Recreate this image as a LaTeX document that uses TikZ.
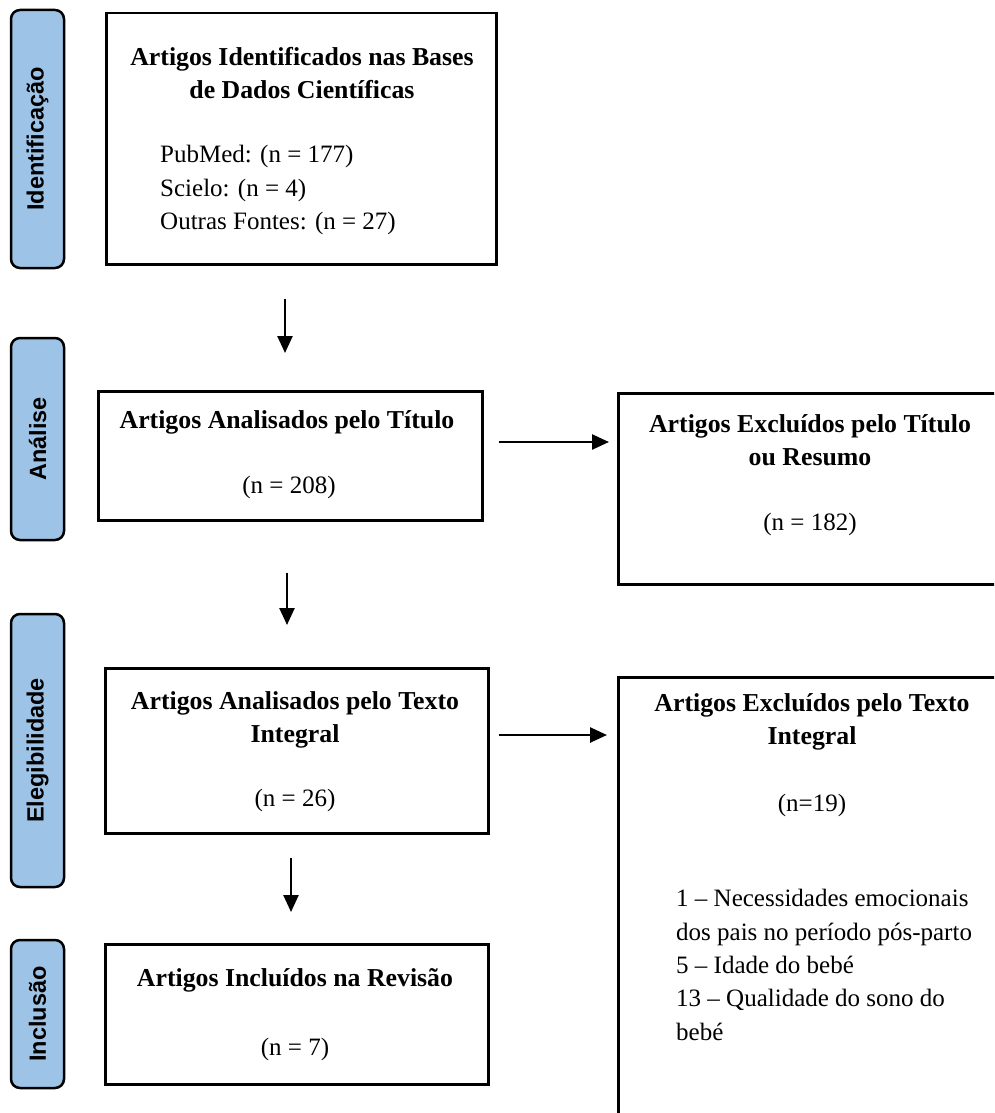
\documentclass[tikz,border=0pt]{standalone}
\usepackage{fontspec}
\setmainfont{Liberation Serif}
\newfontfamily\labelfont{Liberation Sans}
\usetikzlibrary{arrows.meta}
\definecolor{phaseblue}{RGB}{157,195,230}
\begin{document}
\begin{tikzpicture}[x=1pt,y=-1pt,
  box/.style={draw=black,line width=2.5pt,anchor=north west,inner sep=0pt,rectangle},
  phase/.style={draw=black,line width=2.5pt,fill=phaseblue,rounded corners=9pt,minimum width=53pt,inner sep=0pt},
  phasetext/.style={rotate=90,font=\labelfont\bfseries\fontsize{23.5}{26}\selectfont,inner sep=0pt},
  ttl/.style={font=\bfseries\fontsize{25.8}{33}\selectfont,align=center,inner sep=0pt},
  txt/.style={font=\fontsize{25}{33}\selectfont,inner sep=0pt},
  lst/.style={font=\fontsize{25}{33.3}\selectfont,align=left,anchor=west,inner sep=0pt},
  arr/.style={line width=2.5pt,-{Triangle[length=17pt,width=15pt]}}]
\useasboundingbox (0,0) rectangle (994,1113);
\clip (0,0) rectangle (994,1113);

% phase labels
\node[phase,minimum height=258pt] (l1) at (37.5,139) {};
\node[phasetext] (t1) at (l1.center) {Identificação};
\node[phase,minimum height=202pt] (l2) at (37.5,439) {};
\node[phasetext] (t2) at (l2.center) {Análise};
\node[phase,minimum height=273pt] (l3) at (37.5,750.5) {};
\node[phasetext] (t3) at (l3.center) {Elegibilidade};
\node[phase,minimum height=148pt] (l4) at (37.5,1014) {};
\node[phasetext] (t4) at (l4.center) {Inclusão};

% boxes
\node[box,minimum width=390pt,minimum height=251pt] (b1) at (105,12) {};
\node[box,minimum width=384pt,minimum height=129pt] (b2) at (97,390) {};
\node[box,minimum width=400pt,minimum height=191pt] (b3) at (617,392) {};
\node[box,minimum width=383pt,minimum height=165pt] (b4) at (104,667) {};
\node[box,minimum width=400pt,minimum height=460pt] (b5) at (617,676) {};
\node[box,minimum width=383pt,minimum height=140pt] (b6) at (104,943) {};

% texts
\node[ttl] (b1t) at (302,73) {Artigos Identificados nas Bases\\de Dados Científicas};
\node[lst] (b1l) at (160,190) {PubMed: (n = 177)\\Scielo: (n = 4)\\Outras Fontes: (n = 27)};
\node[ttl] (b2t) at (287,422) {Artigos Analisados pelo Título};
\node[txt] (b2n) at (289,487) {(n = 208)};
\node[ttl] (b3t) at (810,440) {Artigos Excluídos pelo Título\\ou Resumo};
\node[txt] (b3n) at (810,524) {(n = 182)};
\node[ttl] (b4t) at (295,720) {Artigos Analisados pelo Texto\\Integral};
\node[txt] (b4n) at (295,800) {(n = 26)};
\node[ttl] (b5t) at (812,722) {Artigos Excluídos pelo Texto\\Integral};
\node[txt] (b5n) at (812,805) {(n=19)};
\node[lst] (b5l) at (676,965) {1 – Necessidades emocionais\\dos pais no período pós-parto\\5 – Idade do bebé\\13 – Qualidade do sono do\\bebé};
\node[ttl] (b6t) at (295,980) {Artigos Incluídos na Revisão};
\node[txt] (b6n) at (295,1049) {(n = 7)};

% connectors
\coordinate (ax1) at (285,0);
\coordinate (ax2) at (287,0);
\coordinate (ax3) at (291,0);
\coordinate (ay1) at (0,442);
\coordinate (ay2) at (0,735);
\draw[arr,shorten <=33pt,shorten >=37pt] (b1.south -| ax1) -- (b2.north -| ax1);
\draw[arr,shorten <=51pt,shorten >=42pt] (b2.south -| ax2) -- (b4.north -| ax2);
\draw[arr,shorten <=23pt,shorten >=31pt] (b4.south -| ax3) -- (b6.north -| ax3);
\draw[arr,shorten <=15pt,shorten >=8pt] (b2.east |- ay1) -- (b3.west |- ay1);
\draw[arr,shorten <=9pt,shorten >=10pt] (b4.east |- ay2) -- (b5.west |- ay2);
\end{tikzpicture}
\end{document}
